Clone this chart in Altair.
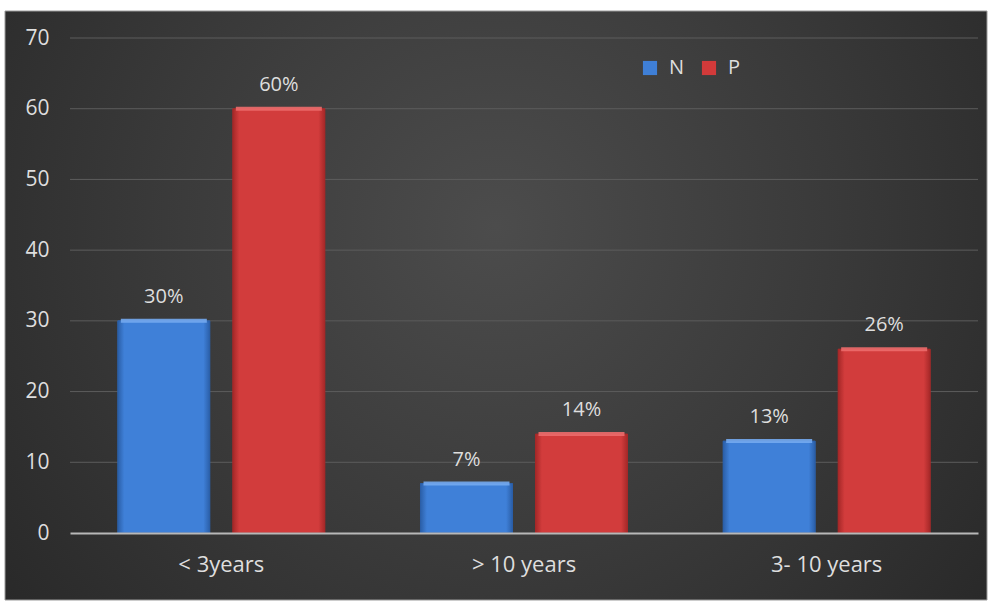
import altair as alt
import pandas as pd

categories = ["< 3years", "> 10 years", "3- 10 years"]
series = ["N", "P"]
n_values = [30, 7, 13]
p_values = [60, 14, 26]
y_ticks = [0, 10, 20, 30, 40, 50, 60, 70]

rows = []
for c, n, p in zip(categories, n_values, p_values):
    rows.append({"cat": c, "series": "N", "value": n, "label": f"{n}%"})
    rows.append({"cat": c, "series": "P", "value": p, "label": f"{p}%"})
df = pd.DataFrame(rows)
grid_df = pd.DataFrame({"value": [t for t in y_ticks if t > 0]})

FONT = "Open Sans"
TXT = "#dedede"

x_enc = alt.X("cat:N", sort=categories, title=None,
              scale=alt.Scale(paddingInner=0.316, paddingOuter=0.158),
              axis=alt.Axis(labelAngle=0, labelFontSize=22, labelColor=TXT, labelFont=FONT,
                            labelPadding=21, ticks=False, domainColor="#b8b8b8",
                            domainWidth=2, zindex=1))
y_scale = alt.Scale(domain=[0, 70], nice=False)
y_enc = alt.Y("value:Q", title=None, scale=y_scale,
              axis=alt.Axis(values=y_ticks, labelFontSize=21, labelColor=TXT, labelFont=FONT,
                            labelPadding=21, ticks=False, domain=False, grid=False,
                            zindex=1))
xo = alt.XOffset("series:N", sort=series,
                 scale=alt.Scale(paddingInner=0.2, paddingOuter=0))

bg = alt.Chart(pd.DataFrame({"a": [0]})).mark_rect(
    fill=alt.RadialGradient(
        gradient="radial", x1=0.5, y1=0.42, x2=0.5, y2=0.42, r1=0, r2=0.75,
        stops=[alt.GradientStop(color="#4c4c4c", offset=0),
               alt.GradientStop(color="#3a3a3a", offset=0.45),
               alt.GradientStop(color="#222222", offset=1)]),
    stroke="#9a9a9a", strokeWidth=1
).encode(x=alt.value(-65), x2=alt.value(917), y=alt.value(-27), y2=alt.value(562))

grid = alt.Chart(grid_df).mark_rule(color="#5c5c5c", strokeWidth=1).encode(
    y=y_enc, x=alt.value(0), x2=alt.value(908))

bars = alt.Chart(df).mark_bar().encode(
    x=x_enc, y=y_enc, xOffset=xo,
    color=alt.Color("series:N", sort=series,
                    scale=alt.Scale(domain=series, range=["#3f7fd6", "#d23a3a"]),
                    legend=alt.Legend(title=None, orient="none", direction="horizontal",
                                      legendX=570, legendY=20, symbolType="square",
                                      symbolSize=200, labelFontSize=20, labelColor=TXT,
                                      labelFont=FONT, columnPadding=14, labelOffset=9,
                                      symbolStrokeWidth=0))
)

def grad_layer(s, dark, mid):
    return alt.Chart(df).transform_filter(alt.datum.series == s).mark_bar(
        fill=alt.LinearGradient(
            gradient="linear", x1=0, x2=1, y1=0, y2=0,
            stops=[alt.GradientStop(color=dark, offset=0),
                   alt.GradientStop(color=mid, offset=0.07),
                   alt.GradientStop(color=mid, offset=0.93),
                   alt.GradientStop(color=dark, offset=1)]),
        stroke=dark, strokeWidth=1
    ).encode(x=x_enc, y=y_enc, xOffset=xo)

blue = grad_layer("N", "#2b5fa8", "#3f80d8")
red = grad_layer("P", "#a52828", "#d23c3c")

def top_layer(s, color):
    return alt.Chart(df).transform_filter(alt.datum.series == s).mark_tick(
        color=color, thickness=4, size=86, opacity=0.9
    ).encode(x=x_enc, y=y_enc, xOffset=xo)

blue_top = top_layer("N", "#74aaf0")
red_top = top_layer("P", "#ec6c6c")

labels = alt.Chart(df).mark_text(
    dy=-14, baseline="bottom", fontSize=20, color=TXT, font=FONT
).encode(x=x_enc, y=y_enc, xOffset=xo, text="label:N")

chart = alt.layer(bg, grid, bars, blue, red, blue_top, red_top, labels).properties(
    width=908, height=495,
    padding={"left": 70, "top": 38, "right": 14, "bottom": 69},
    autosize=alt.AutoSizeParams(type="none"),
    background="white"
).configure_view(stroke=None)

chart.save("out.html", embed_options={"renderer": "svg", "actions": False})
